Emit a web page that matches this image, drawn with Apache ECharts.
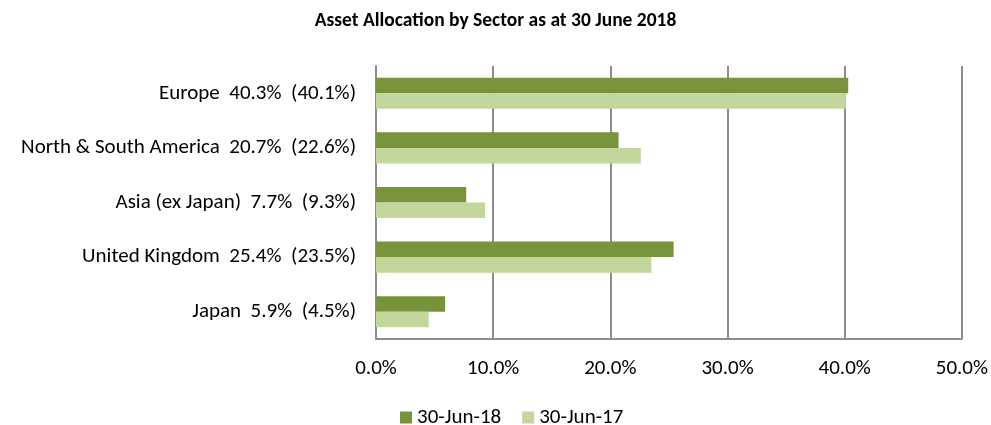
<!DOCTYPE html>
<html>
<head>
<meta charset="utf-8">
<script src="https://cdn.jsdelivr.net/npm/echarts@6/dist/echarts.min.js"></script>
<style>
  html, body { margin: 0; padding: 0; background: #fff; }
  #chart { width: 991px; height: 425px; }
</style>
</head>
<body>
<div id="chart"></div>
<script>
// categories, top to bottom
const categories = [
  'Europe  40.3%  (40.1%)',
  'North & South America  20.7%  (22.6%)',
  'Asia (ex Japan)  7.7%  (9.3%)',
  'United Kingdom  25.4%  (23.5%)',
  'Japan  5.9%  (4.5%)'
];
const jun18 = [40.3, 20.7, 7.7, 25.4, 5.9];
const jun17 = [40.1, 22.6, 9.3, 23.5, 4.5];

const font = 'Carlito, Calibri, "Liberation Sans", sans-serif';
const chart = echarts.init(document.getElementById('chart'));

const option = {
  animation: false,
  title: {
    text: 'Asset Allocation by Sector as at 30 June 2018',
    left: 'center',
    top: 6,
    textStyle: { fontFamily: font, fontSize: 19.5, fontWeight: 'bold', color: '#000' }
  },
  legend: {
    top: 402,
    left: 395,
    icon: 'rect',
    itemWidth: 12,
    itemHeight: 12,
    itemGap: 21,
    textStyle: { fontFamily: font, fontSize: 21, color: '#000' },
    data: ['30-Jun-18', '30-Jun-17']
  },
  grid: { left: 376, right: 29, top: 66, bottom: 86 },
  xAxis: {
    type: 'value',
    min: 0,
    max: 50,
    interval: 10,
    axisLine: { show: true, lineStyle: { color: '#8c8c8c', width: 2 } },
    axisTick: { show: false },
    splitLine: { lineStyle: { color: '#8c8c8c', width: 2 } },
    axisLabel: {
      fontFamily: font, fontSize: 21, color: '#000', margin: 19,
      formatter: v => v.toFixed(1) + '%'
    }
  },
  yAxis: {
    type: 'category',
    inverse: true,
    data: categories,
    axisLine: { lineStyle: { color: '#8c8c8c', width: 2 } },
    axisTick: { show: false },
    axisLabel: { fontFamily: font, fontSize: 21, color: '#000', margin: 20 }
  },
  series: [
    {
      name: '30-Jun-18',
      type: 'bar',
      data: jun18,
      barGap: 0,
      barCategoryGap: '43%',
      itemStyle: { color: '#77933C' }
    },
    {
      name: '30-Jun-17',
      type: 'bar',
      data: jun17,
      itemStyle: { color: '#C3D69B' }
    }
  ]
};
chart.setOption(option);
</script>
</body>
</html>
